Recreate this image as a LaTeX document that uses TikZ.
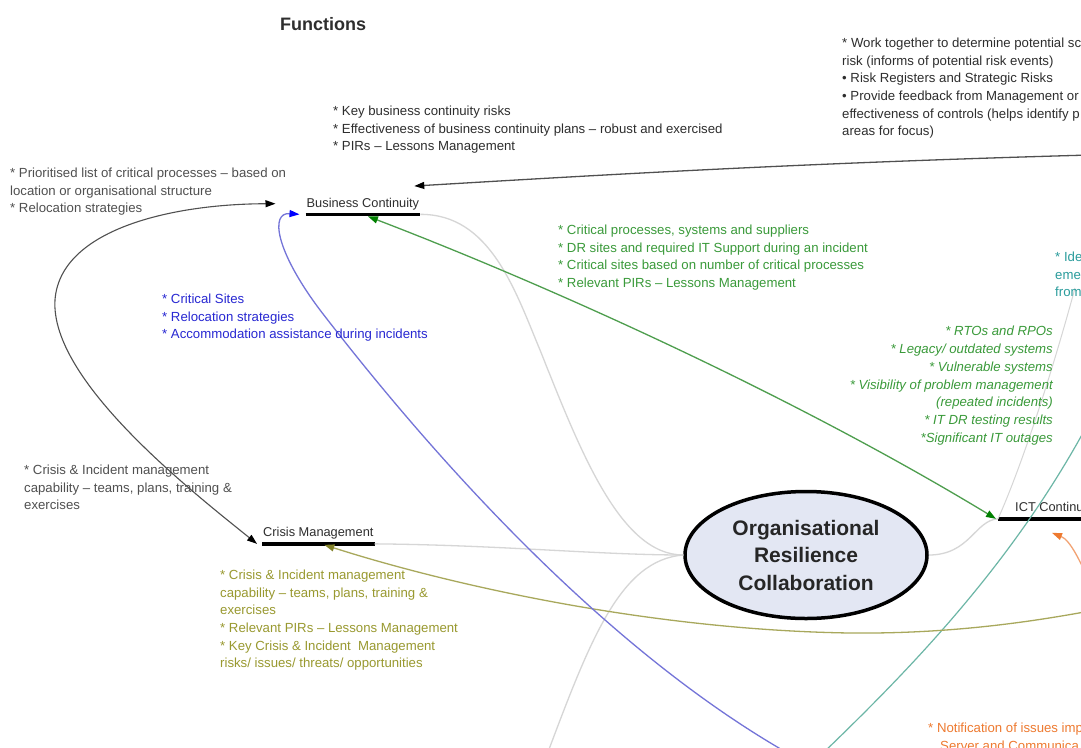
\documentclass[tikz,border=0pt]{standalone}
\usepackage{fontspec}
\setmainfont{Liberation Sans}
\usetikzlibrary{arrows.meta,calc,shapes.geometric,positioning}

\definecolor{txtdark}{HTML}{2E2E2E}
\definecolor{txtgray}{HTML}{505050}
\definecolor{txtgreen}{HTML}{3A9A3A}
\definecolor{txtblue}{HTML}{2828D2}
\definecolor{txtolive}{HTML}{999930}
\definecolor{txtteal}{HTML}{2A9C9C}
\definecolor{txtorange}{HTML}{EE7A30}
\definecolor{linkgray}{HTML}{D6D6D6}
\definecolor{lineblue}{HTML}{7474D8}
\definecolor{linegreen}{HTML}{4E9E4E}
\definecolor{lineolive}{HTML}{A8A85C}
\definecolor{lineteal}{HTML}{6CB6A6}
\definecolor{lineorange}{HTML}{F2A272}
\definecolor{orcfill}{HTML}{E3E7F3}

\begin{document}
\begin{tikzpicture}[x=1pt,y=-1pt,
	note/.style={anchor=north west,inner sep=0pt,align=left,font=\fontsize{13.2}{17.6}\selectfont},
	funclabel/.style={anchor=base west,inner xsep=1pt,inner ysep=4.5pt,font=\fontsize{12.8}{15}\selectfont,text=txtdark},
	funcbar/.style={line width=3.5pt,black},
	link/.style={draw=linkgray,line width=1.3pt}]
	\useasboundingbox (0,0) rectangle (1081,747);
	\fill[white] (0,0) rectangle (1081,747);
	\clip (0,0) rectangle (1081,747);
	% Title
	\node[anchor=base west,inner sep=0pt,font=\bfseries\fontsize{18}{20}\selectfont,text=txtdark] (title) at (280,30) {Functions};
	% --- Function nodes (label over a thick bar) ---
	\node[funclabel] (bc) at (305.5,207) {Business Continuity};
	\draw[funcbar] (bc.south west) -- (bc.south east);
	\node[funclabel] (cm) at (262,536.5) {Crisis Management};
	\draw[funcbar] (cm.south west) -- (cm.south east);
	\node[funclabel] (ict) at (1014,511.5) {ICT Continuity};
	\coordinate (ictw) at ($(ict.south west)+(-16,0)$);
	\draw[funcbar] (ictw) -- (ict.south east);
	% Centre
	\node[ellipse,draw,line width=3.5pt,fill=orcfill,minimum width=242pt,minimum height=127pt,
		align=center,font=\bfseries\fontsize{21}{27.5}\selectfont,text=black!85] (orc) at (806,555)
		{Organisational\\Resilience\\Collaboration};
	% Free ends (nodes outside the picture)
	\coordinate (riskin) at (1090,155);
	\coordinate (blueend) at (800,760);
	\coordinate (oliveend) at (1090,611);
	\coordinate (orangein) at (1092,588);
	\coordinate (tealbot) at (800,775);
	\coordinate (tealtop) at (1090,420);
	\coordinate (lowend) at (545,760);
	\coordinate (upend) at (1075,288);
	% Light grey links to the centre
	\draw[link] (bc.south east) .. controls (490,214) and (515,290) .. (540,350)
		.. controls (580,450) and (620,555) .. (orc.west);
	\draw[link] (cm.south east) .. controls (500,545) and (600,555) .. (orc.west);
	\draw[link] (orc.west) .. controls (620,560) and (590,640) .. (lowend);
	\draw[link] (orc.east) .. controls (970,555) and (975,520) .. (ictw);
	\draw[link,line width=1pt] (ictw) .. controls (1020,470) and (1050,380) .. (upend);
	% Coloured flows
	\draw[lineteal,line width=1.2pt] (tealbot) .. controls (900,680) and (1010,570) .. (tealtop);
	\draw[lineolive,line width=1.3pt,-{Triangle[length=10pt,width=7pt,color=txtolive!85!black]}] (oliveend)
		.. controls (1030,622) and (950,634) .. (850,633)
		.. controls (650,630) and (450,585) .. ($(cm.south)+(6,1)$);
	\draw[lineblue,line width=1.3pt,-{Triangle[length=10pt,width=7pt,color=blue]}] (blueend)
		.. controls (600,650) and (420,440) .. (320,310)
		.. controls (275,250) and (270,212) .. ($(bc.south west)+(-6,0)$);
	\draw[linegreen,line width=1.3pt,{Triangle[length=10pt,width=7pt,color=green!50!black]}-{Triangle[length=10pt,width=7pt,color=green!50!black]}]
		($(bc.south)+(5,2)$) .. controls (560,290) and (800,400) .. ($(ictw)+(-2,0)$);
	\draw[lineorange,line width=1.3pt,-{Triangle[length=10pt,width=7pt,color=txtorange]}] (orangein)
		.. controls (1080,560) and (1070,540) .. ($(ictw)+(54,14)$);
	% Dark arrows
	\draw[txtgray,line width=1.3pt,-{Triangle[length=10pt,width=7pt,color=black]}] (riskin)
		.. controls (800,163) and (600,175) .. ($(bc.north east)+(-6,-7)$);
	\draw[txtgray,line width=1.1pt,{Triangle[length=10pt,width=7pt,color=black]}-{Triangle[length=10pt,width=7pt,color=black]}]
		($(bc.west)+(-30,0)$) .. controls (170,204) and (60,230) .. (55,300)
		.. controls (50,380) and (190,490) .. ($(cm.south west)+(-5,0)$);
	% --- Notes ---
	\node[note,text=txtdark] (worktogether) at (842,38) {* Work together to determine potential sc\\risk (informs of potential risk events)\\• Risk Registers and Strategic Risks\\• Provide feedback from Management or\\effectiveness of controls (helps identify p\\areas for focus)};
	\node[note,text=txtdark] (keyrisks) at (333,106) {* Key business continuity risks\\* Effectiveness of business continuity plans -- robust and exercised\\* PIRs -- Lessons Management};
	\node[note,text=txtgray] (prioritised) at (10,168) {* Prioritised list of critical processes -- based on\\location or organisational structure\\* Relocation strategies};
	\node[note,text=txtgreen] (critproc) at (558,225) {* Critical processes, systems and suppliers\\* DR sites and required IT Support during an incident\\* Critical sites based on number of critical processes\\* Relevant PIRs -- Lessons Management};
	\node[note,text=txtblue] (critsites) at (162,294) {* Critical Sites\\* Relocation strategies\\* Accommodation assistance during incidents};
	\node[note,text=txtteal] (ide) at (1055,252) {* Ide\\eme\\from};
	\node[note,anchor=north east,align=right,text=txtgreen,font=\itshape\fontsize{13.2}{17.8}\selectfont] (rtos) at (1053,326) {* RTOs and RPOs\\* Legacy/ outdated systems\\* Vulnerable systems\\* Visibility of problem management\\(repeated incidents)\\* IT DR testing results\\*Significant IT outages};
	\node[note,text=txtgray] (crisiscap) at (24,465) {* Crisis \& Incident management\\capability -- teams, plans, training \&\\exercises};
	\node[note,text=txtolive] (crisisnotes) at (220,570) {* Crisis \& Incident management\\capability -- teams, plans, training \&\\exercises\\* Relevant PIRs -- Lessons Management\\* Key Crisis \& Incident\ \ Management\\risks/ issues/ threats/ opportunities};
	\node[note,text=txtorange] (notify) at (928,723) {* Notification of issues imp\\\hspace*{12pt}Server and Communica};
\end{tikzpicture}
\end{document}
